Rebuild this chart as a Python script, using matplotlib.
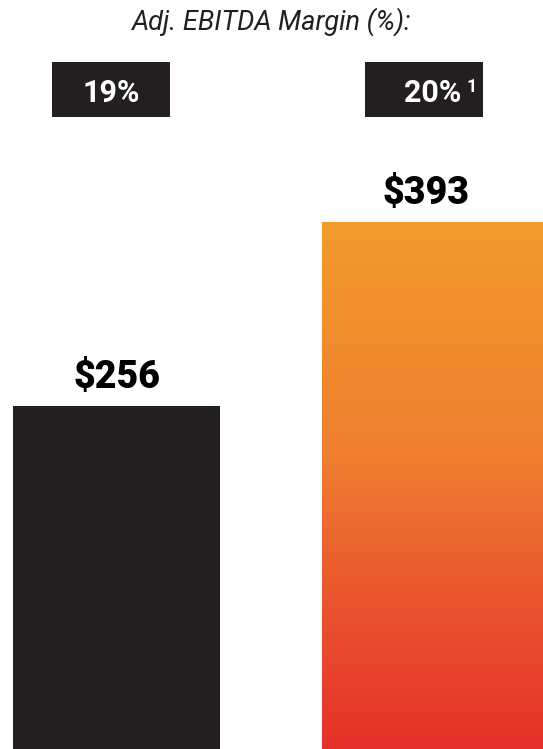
import matplotlib
matplotlib.use('Agg')
import numpy as np
import matplotlib.pyplot as plt
from matplotlib.colors import LinearSegmentedColormap
from matplotlib.patches import Rectangle

# values
periods = ['FY1', 'FY2']
ebitda = [256, 393]
margins = ['19%', '20%']
footnote = '1'

dark = '#231F20'
grad = LinearSegmentedColormap.from_list(
    'warm', [(0.0, '#E5312A'), (0.3, '#EA572E'), (0.55, '#EF7E30'), (1.0, '#F39A2C')])

plt.rcParams['font.family'] = ['Roboto', 'DejaVu Sans']

W, H = 543, 749
fig = plt.figure(figsize=(W / 100, H / 100), dpi=100)
ax = fig.add_axes([0, 0, 1, 1])
ax.set_axis_off()

# bar geometry: positions 0 and 1, left-aligned
widths = [0.67, 0.714]
bars = ax.bar(range(len(ebitda)), ebitda, width=widths, align='edge',
              color=[dark, 'none'], edgecolor='none')

# gradient fill for the second bar
b = bars[1]
x0, w, h = b.get_x(), b.get_width(), b.get_height()
g = np.linspace(0, 1, 256).reshape(-1, 1)
im = ax.imshow(g, cmap=grad, origin='lower', aspect='auto',
               extent=[x0, x0 + w, 0, h], zorder=1)
im.set_clip_path(b)
ax.set_xlim(-0.043, 1.714)
ax.set_ylim(0, 559)

# value labels above bars
for i, v in enumerate(ebitda):
    ax.annotate('${}'.format(v), (i + 0.335, v), xytext=(0, 13),
                textcoords='offset points', ha='center', va='baseline',
                fontsize=27, fontweight='black', color='black')

# heading
fig.text(271 / W, 1 - 30 / H, 'Adj. EBITDA Margin (%):', ha='center', va='baseline',
         fontsize=19.5, fontstyle='italic', fontweight='normal', color=dark)

# margin boxes
box_x = [52, 365]
for bx in box_x:
    fig.patches.append(Rectangle((bx / W, 1 - 117 / H), 118 / W, 55 / H,
                                 transform=fig.transFigure, facecolor=dark,
                                 edgecolor='none'))
fig.text(111 / W, 1 - 102 / H, margins[0], ha='center', va='baseline',
         fontsize=22, fontweight='bold', color='white')
fig.text(433 / W, 1 - 102 / H, margins[1], ha='center', va='baseline',
         fontsize=22, fontweight='bold', color='white')
fig.text(466 / W, 1 - 92 / H, footnote, ha='left', va='baseline',
         fontsize=13, fontweight='bold', color='white')

fig.savefig('out.png', dpi=100, facecolor='white')
